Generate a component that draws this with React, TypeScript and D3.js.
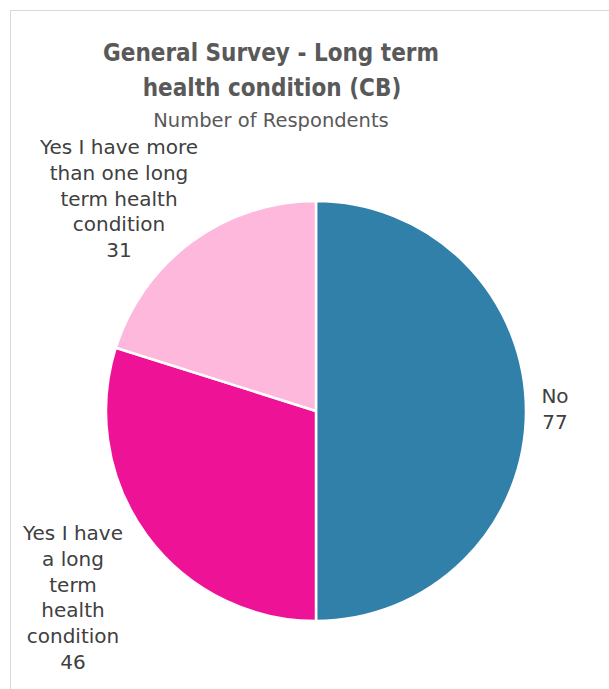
import React, { useEffect, useRef } from "react";
import * as d3 from "d3";

const categories = [
  "No",
  "Yes I have a long term health condition",
  "Yes I have more than one long term health condition",
];
const values = [77, 46, 31];
const colors = ["#3180a9", "#ee1396", "#fdb8dc"];
// label lines as wrapped in the picture
const labelLines = [
  ["No"],
  ["Yes I have", "a long", "term", "health", "condition"],
  ["Yes I have more", "than one long", "term health", "condition"],
];
const labelPos = [
  { x: 555, y: 396 },
  { x: 73, y: 533 },
  { x: 119, y: 147 },
];

const W = 609;
const H = 689;

export default function App() {
  const svgRef = useRef<SVGSVGElement>(null);

  useEffect(() => {
    if (!svgRef.current) return;
    const svg = d3.select(svgRef.current);
    svg.selectAll("*").remove();

    svg.append("rect").attr("width", W).attr("height", H).attr("fill", "#fff");
    svg
      .append("rect")
      .attr("x", 10.5)
      .attr("y", 10.5)
      .attr("width", W + 10)
      .attr("height", H + 10)
      .attr("fill", "#fff")
      .attr("stroke", "#d9d9d9");

    const font = "'DejaVu Sans', sans-serif";

    const title = svg
      .append("text")
      .attr("text-anchor", "middle")
      .attr("fill", "#595959")
      .style("font-family", "'DejaVu Sans Condensed', 'DejaVu Sans', sans-serif")
      .style("font-size", "24px")
      .style("font-weight", "bold");
    title.append("tspan").attr("x", 271).attr("y", 61).text("General Survey - Long term");
    title.append("tspan").attr("x", 272).attr("y", 96).text("health condition (CB)");

    svg
      .append("text")
      .attr("x", 271)
      .attr("y", 127)
      .attr("text-anchor", "middle")
      .attr("fill", "#595959")
      .style("font-family", font)
      .style("font-size", "19.5px")
      .text("Number of Respondents");

    const cx = 316;
    const cy = 411;
    const r = 210;

    const pie = d3
      .pie<number>()
      .value((d) => d)
      .sort(null);
    const arc = d3.arc<d3.PieArcDatum<number>>().innerRadius(0).outerRadius(r);

    const g = svg.append("g").attr("transform", `translate(${cx},${cy})`);
    g.selectAll("path")
      .data(pie(values))
      .enter()
      .append("path")
      .attr("d", arc as any)
      .attr("fill", (_d, i) => colors[i])
      .attr("stroke", "#fff")
      .attr("stroke-width", 2.5)
      .attr("stroke-linejoin", "round");

    categories.forEach((_c, i) => {
      const t = svg
        .append("text")
        .attr("text-anchor", "middle")
        .attr("fill", "#404040")
        .style("font-family", font)
        .style("font-size", "20px");
      const lines = [...labelLines[i], String(values[i])];
      lines.forEach((ln, j) => {
        t.append("tspan")
          .attr("x", labelPos[i].x)
          .attr("y", labelPos[i].y + 7 + j * 25.8)
          .text(ln);
      });
    });
  }, []);

  return (
    <svg
      ref={svgRef}
      width={W}
      height={H}
      style={{ position: "absolute", left: 0, top: 0, display: "block" }}
    />
  );
}
